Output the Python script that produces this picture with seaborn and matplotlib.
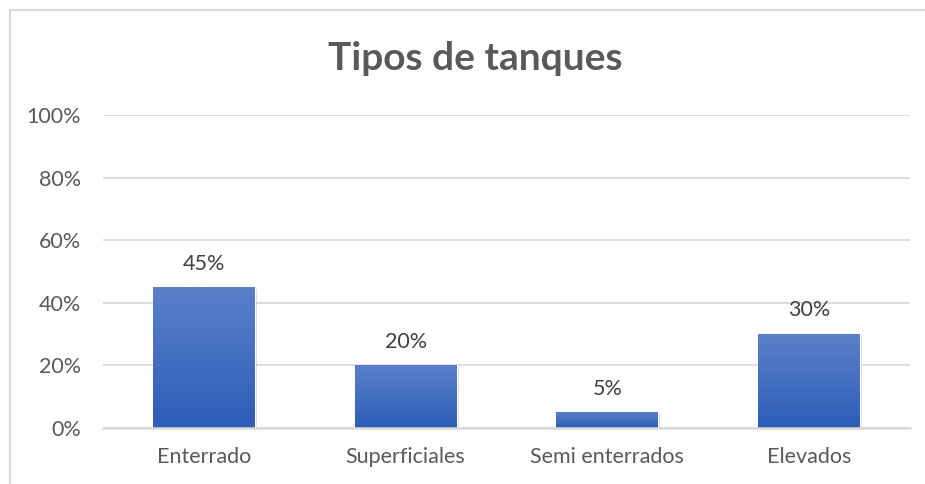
import numpy as np
import pandas as pd
import seaborn as sns
import matplotlib.pyplot as plt
from matplotlib.lines import Line2D
from matplotlib.colors import LinearSegmentedColormap
import matplotlib.patheffects as pe

categories = ["Enterrado", "Superficiales", "Semi enterrados", "Elevados"]
values = [0.45, 0.20, 0.05, 0.30]
yticks = [0, 0.2, 0.4, 0.6, 0.8, 1.0]
ytick_labels = ["0%", "20%", "40%", "60%", "80%", "100%"]
title = "Tipos de tanques"

df = pd.DataFrame({"tipo": categories, "valor": values})

sns.set_style("white")
plt.rcParams['font.family'] = ['Lato', 'DejaVu Sans']

fig = plt.figure(figsize=(9.25, 4.84), dpi=100)
ax = fig.add_axes([103/925, 56/484, 807/925, 313/484])

sns.barplot(data=df, x="tipo", y="valor", color="#4472C4", width=0.505, ax=ax,
            saturation=1)

# gradient fill, lighter at the top like the Excel style
grad = LinearSegmentedColormap.from_list("g", ["#2D5DB8", "#5B80C9"])
for p in ax.patches:
    x0, y0 = p.get_x(), p.get_y()
    w, h = p.get_width(), p.get_height()
    img = ax.imshow(np.linspace(0, 1, 100).reshape(-1, 1), cmap=grad, origin="lower",
                    extent=[x0, x0 + w, y0, y0 + h], aspect="auto", zorder=3)
    img.set_clip_path(p)
    p.set_path_effects([pe.SimplePatchShadow(offset=(1.5, -1), shadow_rgbFace="#b0b0b0", alpha=0.5),
                        pe.Normal()])
    p.set_zorder(2)

ax.set_xlim(-0.5, 3.5)
ax.set_ylim(0, 1.0)
ax.set_yticks(yticks)
ax.set_yticklabels(ytick_labels)
ax.yaxis.grid(True, color="#d9d9d9", linewidth=1.3)
ax.set_axisbelow(True)
for s in ["top", "right", "left"]:
    ax.spines[s].set_visible(False)
ax.spines["bottom"].set_color("#d9d9d9")
ax.spines["bottom"].set_linewidth(1.8)
ax.spines["bottom"].set_zorder(4)
ax.tick_params(axis="both", length=0, colors="#595959", labelsize=15.5)
ax.tick_params(axis="y", pad=16)
ax.tick_params(axis="x", pad=14)
ax.set_xlabel("")
ax.set_ylabel("")

for i, v in enumerate(values):
    ax.annotate(f"{v*100:.0f}%", (i, v), xytext=(0, 17), textcoords="offset points",
                ha="center", va="center", fontsize=15.5, color="#404040")

fig.text(475/925, 1 - 58/484, title, ha="center", va="center", fontsize=28,
         fontweight="bold", color="#595959")

# chart border (cropped on right and bottom)
fig.add_artist(Line2D([10/925, 10/925], [0, 1 - 10/484], color="#d9d9d9", linewidth=1.5,
                      transform=fig.transFigure))
fig.add_artist(Line2D([10/925, 1], [1 - 10/484, 1 - 10/484], color="#d9d9d9", linewidth=1.5,
                      transform=fig.transFigure))

fig.savefig("out.png", dpi=100, facecolor="white")
